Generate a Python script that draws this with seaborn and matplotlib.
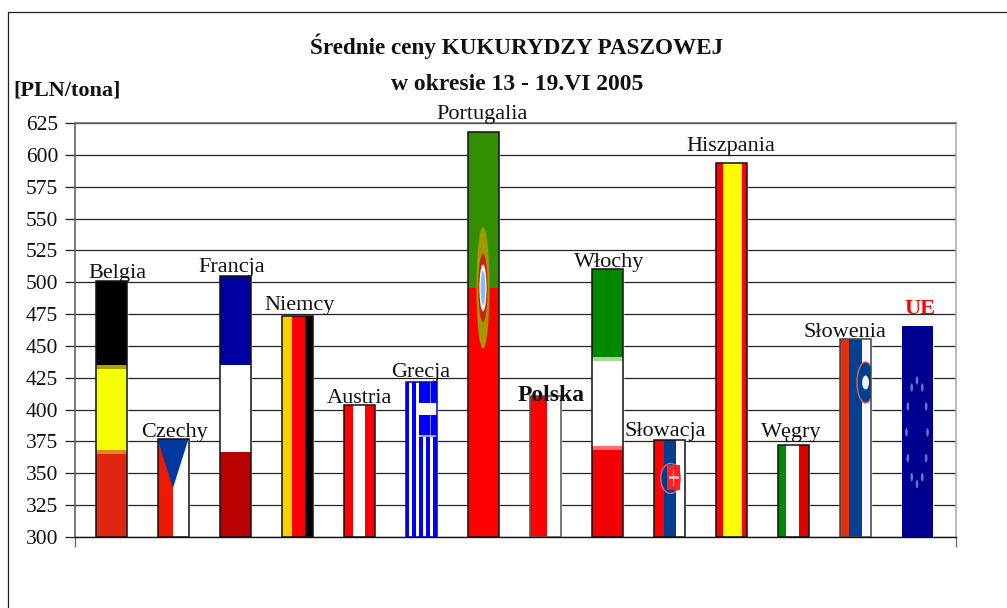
import numpy as np
import matplotlib
matplotlib.use('Agg')
import matplotlib.pyplot as plt
import matplotlib.transforms as mtransforms
from matplotlib.lines import Line2D
from matplotlib.patches import Rectangle, Ellipse, Polygon
import seaborn as sns

# Data
countries = ['Belgia', 'Czechy', 'Francja', 'Niemcy', 'Austria', 'Grecja', 'Portugalia',
             'Polska', 'Włochy', 'Słowacja', 'Hiszpania', 'Węgry', 'Słowenia', 'UE']
prices = [501, 377, 505, 473.5, 403.5, 421.5, 618, 411, 510, 376, 593.5, 372, 455.5, 466]
y_ticks = list(range(300, 650, 25))

# label nudges in pixels (dx, baseline above bar top)
label_offsets = [(6, 3), (1, 2), (-3, 4), (3, 6), (0, 2), (0, 5), (-1, 13),
                 (6, -5), (2, 2), (-4, 4), (0, 12), (-2, 8), (-10, 2), (3, 12)]

# stripes are (colour, share of bar), horizontal from the top or vertical from the left
flags = {
    'Belgia': ('h', [('#000000', .328), ('#a8a800', .016), ('#f6ff00', .316), ('#e08a20', .016), ('#e0260f', .324)]),
    'Czechy': ('v', [('#f01800', .5), ('#ffffff', .5)]),
    'Francja': ('h', [('#0000a0', .34), ('#ffffff', .336), ('#b80000', .324)]),
    'Niemcy': ('v', [('#ffd000', .34), ('#ff0000', .43), ('#000000', .23)]),
    'Austria': ('v', [('#ff0000', .3), ('#ffffff', .4), ('#ff0000', .3)]),
    'Grecja': ('v', [('#0000ff', 1 / 9), ('#ffffff', 1 / 9)] * 4 + [('#0000ff', 1 / 9)]),
    'Portugalia': ('h', [('#338f00', .385), ('#ff0000', .615)]),
    'Polska': ('v', [('#ff0000', .57), ('#ffffff', .43)]),
    'Włochy': ('h', [('#008800', .328), ('#a8d8a0', .015), ('#ffffff', .317), ('#ff6a6a', .015), ('#f50000', .325)]),
    'Słowacja': ('v', [('#ff0000', .33), ('#003f8f', .41), ('#ffffff', .26)]),
    'Hiszpania': ('v', [('#ff0000', .23), ('#ffff00', .62), ('#ff0000', .15)]),
    'Węgry': ('v', [('#008800', .29), ('#ffffff', .41), ('#e00000', .3)]),
    'Słowenia': ('v', [('#e0300f', .31), ('#004090', .41), ('#f8f8ff', .28)]),
    'UE': ('h', [('#000090', 1)]),
}
edge_colors = {'Polska': '#555555', 'Słowenia': '#444444', 'UE': 'none', 'Grecja': '#0000c0'}

sns.set_theme(style='white')
plt.rcParams['font.family'] = ['Liberation Serif', 'DejaVu Sans']

W, H = 1007, 608
fig = plt.figure(figsize=(W / 100, H / 100), dpi=100)
ax = fig.add_axes([75 / W, 1 - 537 / H, (956 - 75) / W, (537 - 123) / H])

sns.barplot(x=countries, y=prices, color='white', width=31 / 62, saturation=1, ax=ax, zorder=2)

ax.set_ylim(300, 625)
ax.set_xlim(-36 / 62, 845 / 62)
ax.set_yticks(y_ticks)
ax.set_xticks(ax.get_xlim())
ax.set_xticklabels([])
ax.set_xlabel('')
ax.set_ylabel('')
ax.yaxis.grid(True, color='#222222', lw=0.9)
ax.set_axisbelow(True)
ax.tick_params(axis='y', length=7, width=0.9, color='#222222', labelsize=15.5, pad=5,
               left=True, labelcolor='#111111')
ax.tick_params(axis='x', length=7, width=0.9, color='#666666', bottom=True)
for s in ['left', 'right', 'top']:
    ax.spines[s].set_visible(True)
    ax.spines[s].set_linewidth(1.1)
ax.spines['left'].set_color('#555555')
ax.spines['right'].set_color('#aaaaaa')
ax.spines['top'].set_color('#666666')
ax.spines['bottom'].set_color('#111111')
ax.spines['bottom'].set_linewidth(1)


def bar_coords(bar):
    # transform with 0-1 running over the visible part of a bar
    box = mtransforms.Bbox([[bar.get_x(), 300], [bar.get_x() + bar.get_width(), bar.get_height()]])
    return mtransforms.BboxTransformTo(mtransforms.TransformedBbox(box, ax.transData))


def add_part(part, bar, z=2.2):
    part.set_transform(bar_coords(bar))
    part.set_zorder(z)
    ax.add_artist(part)
    part.set_clip_path(bar)


for name, bar in zip(countries, ax.patches):
    kind, stripes = flags[name]
    pos = 0
    for colour, share in stripes:
        if kind == 'v':
            piece = Rectangle((pos, 0), share, 1, fc=colour, ec='none')
        else:
            piece = Rectangle((0, 1 - pos - share), 1, share, fc=colour, ec='none')
        add_part(piece, bar, 2.1)
        pos += share

    if name == 'Czechy':
        add_part(Polygon([(0, 1), (1, 1), (.5, .5)], fc='#0038a0', ec='none'), bar)
    elif name == 'Grecja':
        add_part(Rectangle((.44, .645), .56, .355, fc='#0000ff', ec='none'), bar)
        add_part(Rectangle((.33, .79), .67, .075, fc='#ffffff', ec='none'), bar, 2.3)
        add_part(Rectangle((.44, .645), .56, .012, fc='#a0a0ff', ec='none'), bar, 2.3)
        add_part(Rectangle((.78, .645), .05, .355, fc='#8080ff', ec='none'), bar, 2.25)
    elif name == 'Portugalia':
        add_part(Ellipse((.5, .615), .42, .30, fc='#a09a00', ec='none'), bar)
        add_part(Ellipse((.5, .615), .30, .17, fc='#d02010', ec='none'), bar, 2.3)
        add_part(Ellipse((.5, .615), .23, .115, fc='#f4f4ff', ec='none'), bar, 2.4)
        add_part(Ellipse((.5, .615), .15, .085, fc='#80c0ff', ec='none'), bar, 2.5)
    elif name == 'Słowacja':
        add_part(Ellipse((.55, .605), .63, .31, fc='#003f8f', ec='#f06070', lw=1), bar)
        add_part(Rectangle((.43, .485), .44, .257, fc='#ff2020', ec='none'), bar, 2.3)
        add_part(Rectangle((.5, .6), .32, .03, fc='#ffb0b0', ec='none'), bar, 2.4)
        add_part(Rectangle((.63, .53), .04, .16, fc='#ffb0b0', ec='none'), bar, 2.4)
    elif name == 'Słowenia':
        add_part(Ellipse((.84, .78), .55, .207, fc='#004090', ec='#e06060', lw=1), bar)
        add_part(Ellipse((.84, .78), .22, .07, fc='#f0f4ff', ec='none'), bar, 2.3)
    elif name == 'UE':
        for ang in np.arange(12) * np.pi / 6:
            star = Ellipse((.5 + .34 * np.cos(ang), .495 + .245 * np.sin(ang)), .085, .04,
                           angle=0, fc='#7070c8', ec='none')
            add_part(star, bar)

    edge = edge_colors.get(name, '#111111')
    if edge != 'none':
        outline = Rectangle((0, 0), 1, 1, fill=False, ec=edge, lw=1.1)
        outline.set_transform(bar_coords(bar))
        outline.set_zorder(2.6)
        ax.add_artist(outline)

# country names sit on the bars
for name, bar, off in zip(countries, ax.patches, label_offsets):
    style = {'fontsize': 16, 'color': '#111111', 'fontweight': 'normal'}
    if name == 'Polska':
        style = {'fontsize': 17, 'color': '#111111', 'fontweight': 'bold'}
    if name == 'UE':
        style = {'fontsize': 16, 'color': '#ff0000', 'fontweight': 'bold'}
    ax.annotate(name, xy=(bar.get_x() + bar.get_width() / 2, bar.get_height()),
                xytext=off, textcoords='offset pixels', ha='center', va='baseline',
                annotation_clip=False, zorder=5, **style)

fig.text(517 / W, 1 - 54 / H, 'Średnie ceny KUKURYDZY PASZOWEJ', ha='center', va='baseline',
         fontsize=16.7, fontweight='bold', color='#111111')
fig.text(517 / W, 1 - 90 / H, 'w okresie 13 - 19.VI 2005', ha='center', va='baseline',
         fontsize=17, fontweight='bold', color='#111111')
fig.text(13 / W, 1 - 95 / H, '[PLN/tona]', ha='left', va='baseline',
         fontsize=16, fontweight='bold', color='#111111')

# outer frame of the pasted chart
fig.add_artist(Line2D([8 / W, 8 / W], [0, 1 - 12 / H], color='#222222', lw=0.9))
fig.add_artist(Line2D([8 / W, 1], [1 - 12 / H, 1 - 12 / H], color='#222222', lw=0.9))

fig.savefig('out.png', dpi=100)
